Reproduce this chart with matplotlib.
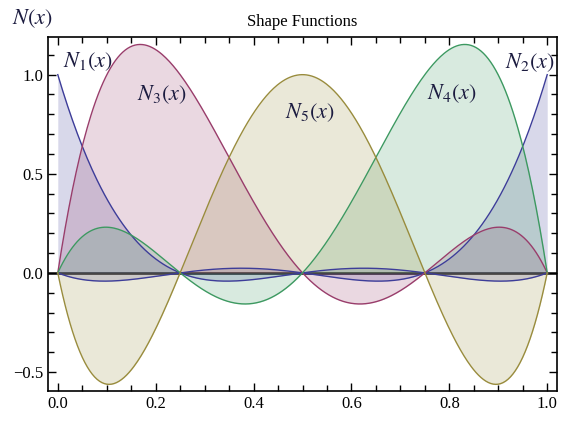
import numpy as np
import matplotlib.pyplot as plt

plt.rcParams['font.family'] = ['Liberation Serif', 'DejaVu Serif']
plt.rcParams['mathtext.fontset'] = 'stix'

# quartic Lagrange nodes on [0, 1], one per shape function
names = ['N1', 'N2', 'N3', 'N4', 'N5']
nodes = [0.0, 1.0, 0.25, 0.75, 0.5]
colors = ['#3d3d99', '#3d3d99', '#993d6b', '#3d9961', '#998c3d']
label_pos = [(0.061, 1.065), (0.965, 1.061), (0.213, 0.899), (0.806, 0.904), (0.515, 0.808)]
xticks = [0.0, 0.2, 0.4, 0.6, 0.8, 1.0]
yticks = [-0.5, 0.0, 0.5, 1.0]

x = np.linspace(0, 1, 400)


def shape(i, x):
    out = np.ones_like(x)
    for j, xj in enumerate(nodes):
        if j != i:
            out *= (x - xj) / (nodes[i] - xj)
    return out


fig = plt.figure(figsize=(5.69, 4.21), dpi=100)
ax = fig.add_axes([48 / 569, 1 - 391 / 421, 509 / 569, 354 / 421])

ax.axhline(0, color='#333333', lw=2, zorder=1)
for i, name in enumerate(names):
    y = shape(i, x)
    ax.fill_between(x, 0, y, color=colors[i], alpha=0.2, lw=0, zorder=2)
    ax.plot(x, y, color=colors[i], lw=1, zorder=3)
    lx, ly = label_pos[i]
    ax.text(lx, ly, r'$N_{%s}(x)$' % name[1], fontsize=16, color='#1c1c40',
            ha='center', va='center', zorder=4)

ax.set_xlim(-0.02, 1.02)
ax.set_ylim(-0.596, 1.19)
ax.set_xticks(xticks)
ax.set_xticklabels(['%.1f' % t for t in xticks])
ax.set_yticks(yticks)
ax.set_yticklabels(['%.1f' % t if t >= 0 else '\u2212%.1f' % -t for t in yticks])
ax.set_xticks(np.arange(0, 1.001, 0.05), minor=True)
ax.set_yticks(np.arange(-0.5, 1.101, 0.1), minor=True)
ax.tick_params(which='both', direction='in', top=True, right=True, labelsize=12, width=1)
ax.tick_params(which='major', length=6)
ax.tick_params(which='minor', length=4)
for s in ax.spines.values():
    s.set_linewidth(1.2)

ax.set_title('Shape Functions', fontsize=12, pad=8)
fig.text(32 / 569, 1 - 19 / 421, r'$N(x)$', fontsize=16, color='#1c1c40', ha='center', va='center')

fig.savefig('out.png', dpi=100)
